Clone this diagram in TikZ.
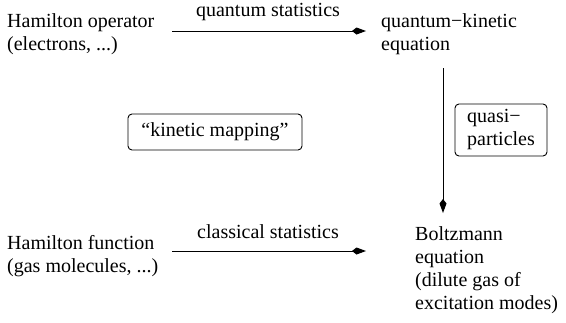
\documentclass[tikz,border=0pt]{standalone}
\usepackage{fontspec}
\setmainfont{Liberation Serif}
\usetikzlibrary{arrows.meta}
\begin{document}
\begin{tikzpicture}[x=1pt,y=-1pt,
  txt/.style={font=\fontsize{20}{23}\selectfont, inner sep=0pt, align=left, anchor=north west},
  lbl/.style={font=\fontsize{20}{23}\selectfont, inner sep=0pt},
  rbox/.style={draw, rounded corners=4pt, line width=0.9pt, font=\fontsize{20}{23}\selectfont, inner sep=0pt, align=left},
  conn/.style={line width=1pt, -{Kite[length=14pt,width=7pt,inset=4.5pt]}}]
\useasboundingbox (0,0) rectangle (566,322);
\node[txt] (ho) at (7,13) {Hamilton operator\\(electrons, ...)};
\node[txt] (qk) at (381,13) {quantum−kinetic\\equation};
\node[txt] (hf) at (7,235) {Hamilton function\\(gas molecules, ...)};
\node[txt] (be) at (415,226) {Boltzmann\\equation\\(dilute gas of\\excitation modes)};
\coordinate (t1) at (172,31);
\coordinate (t2) at (366,31);
\coordinate (b1) at (172,251);
\coordinate (b2) at (366,251);
\coordinate (v1) at (443,68);
\coordinate (v2) at (443,213);
\draw[conn] (t1) -- (t2);
\draw[conn] (b1) -- (b2);
\draw[conn] (v1) -- (v2);
\node[lbl] (qs) at (268,12) {quantum statistics};
\node[lbl] (cs) at (268,232) {classical statistics};
\node[rbox, minimum width=174pt, minimum height=36pt] (km) at (215,132) {“kinetic mapping”};
\node[rbox, minimum width=92pt, minimum height=52pt] (qp) at (501,130) {quasi−\\particles};
\end{tikzpicture}
\end{document}
